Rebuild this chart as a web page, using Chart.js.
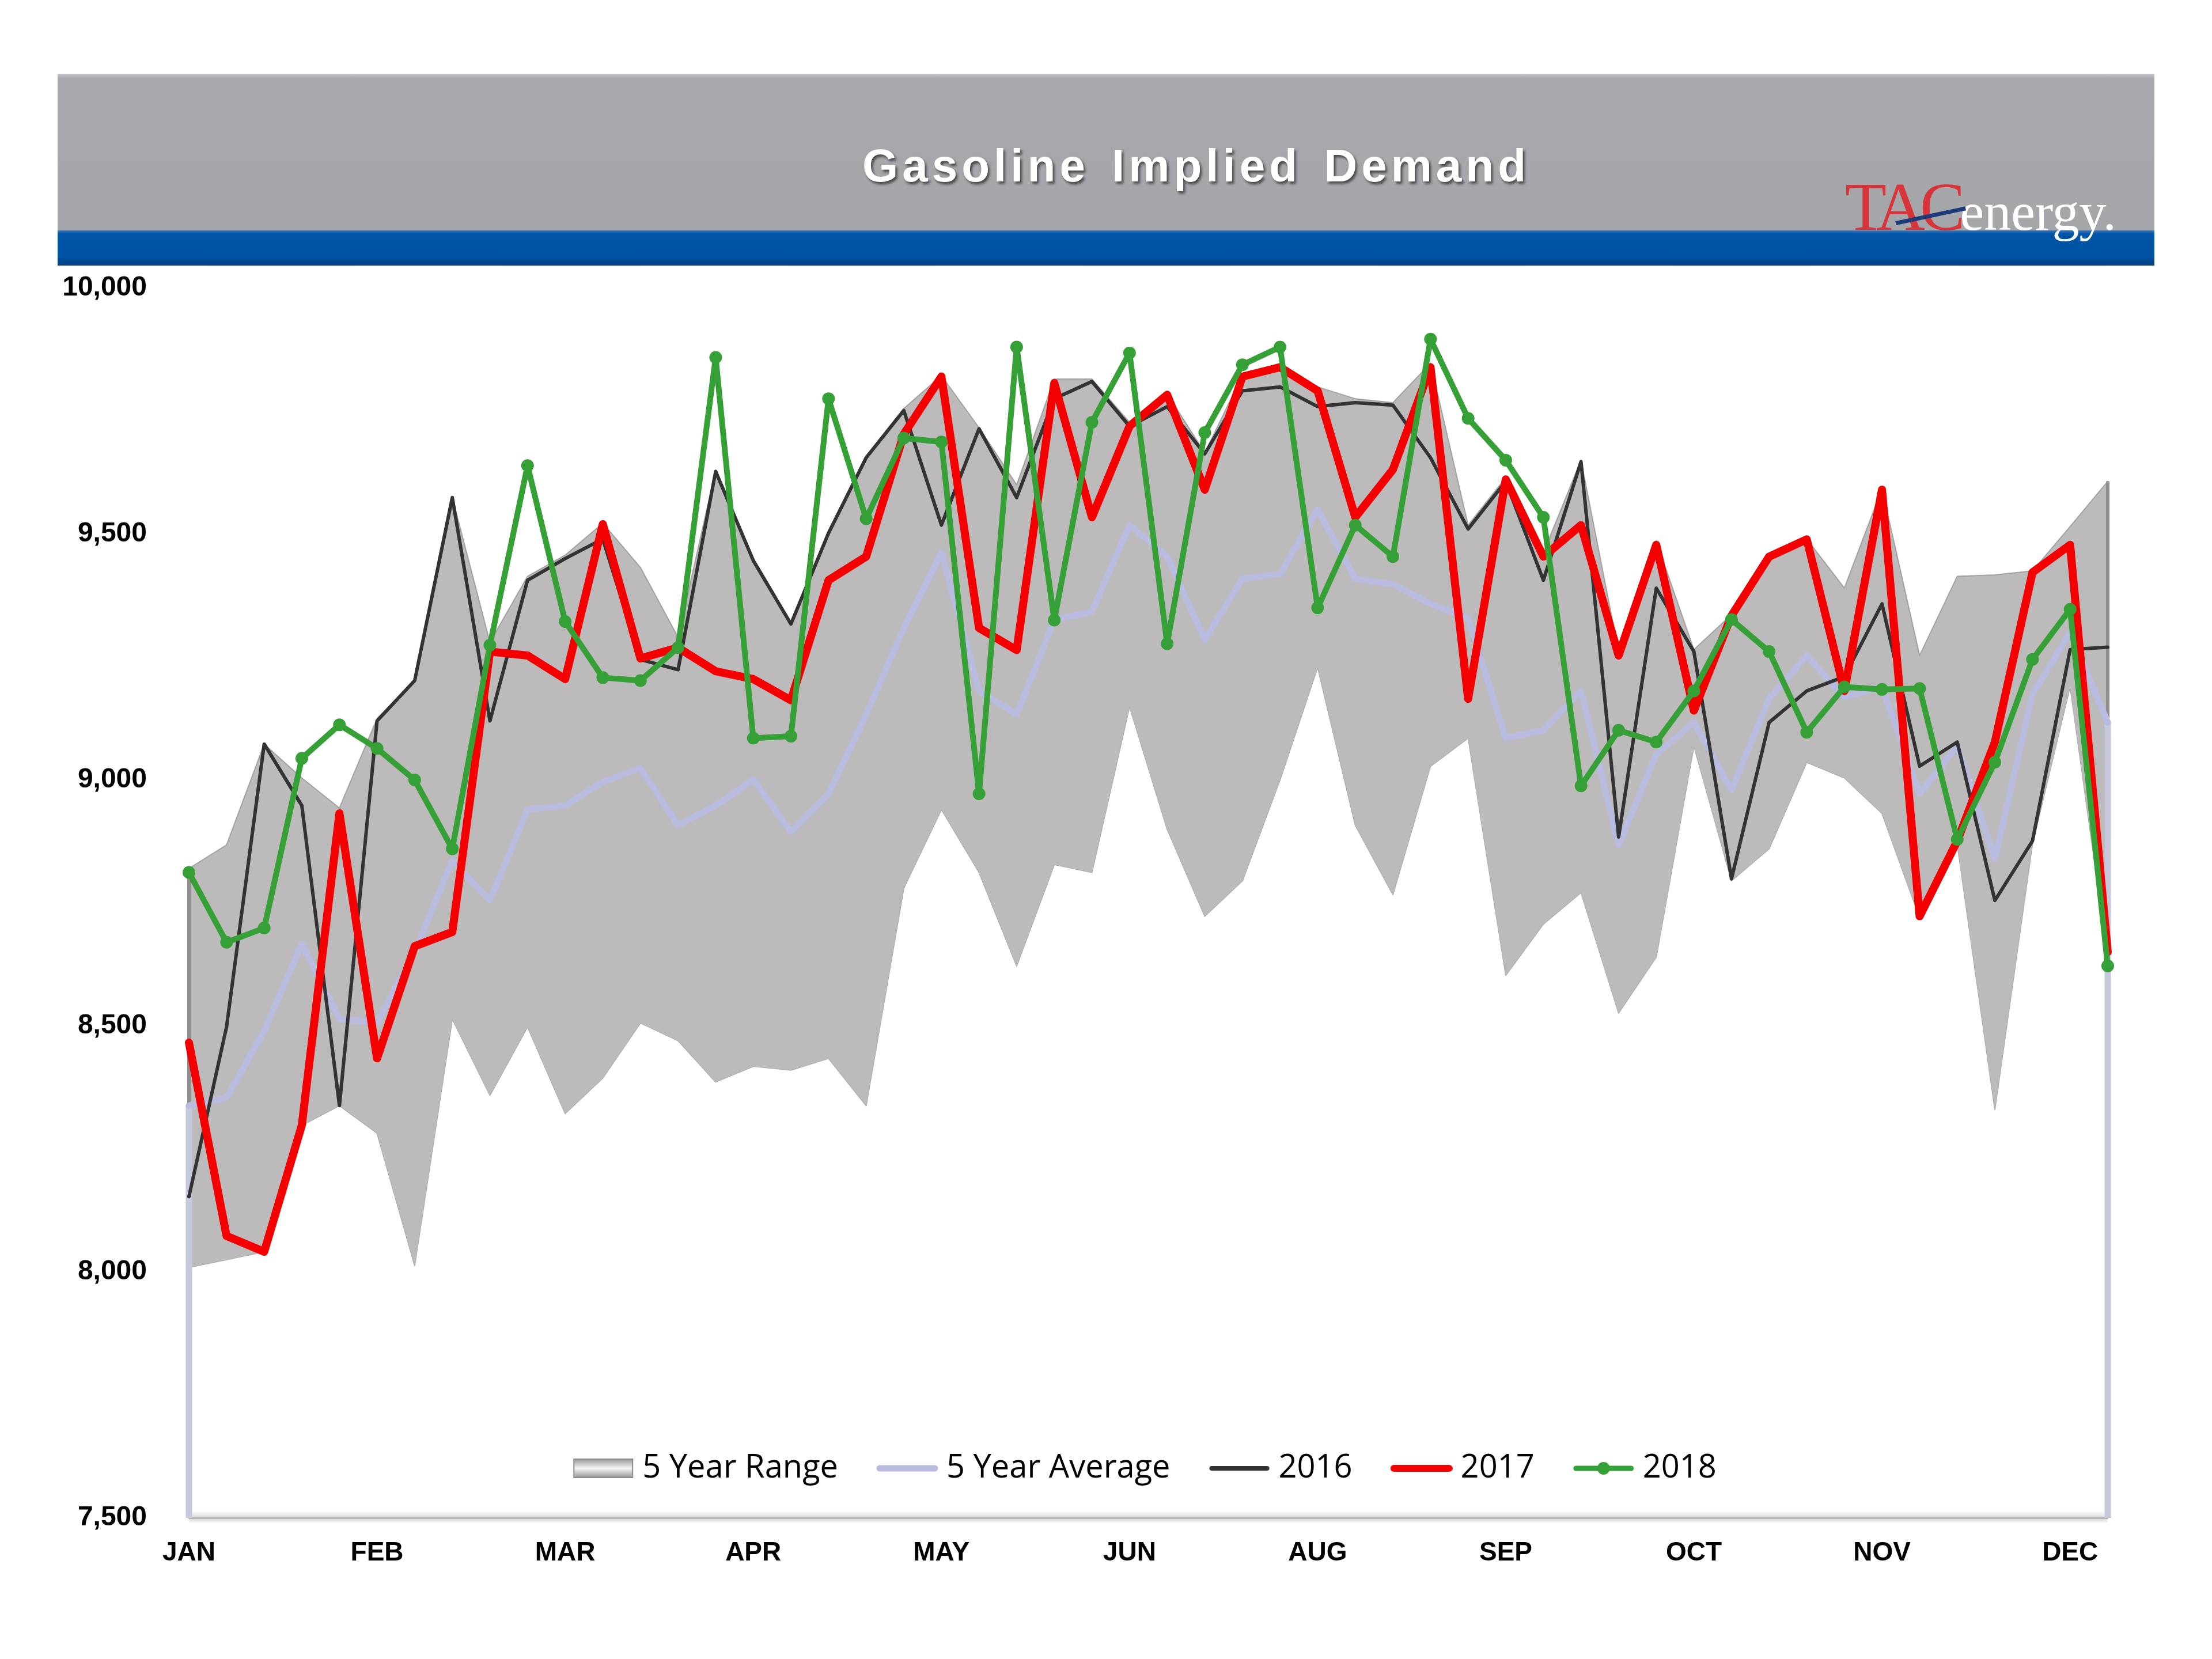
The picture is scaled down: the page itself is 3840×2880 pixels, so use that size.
<!DOCTYPE html>
<html>
<head>
<meta charset="utf-8">
<title>Gasoline Implied Demand</title>
<script src="https://cdn.jsdelivr.net/npm/chart.js@4.4.1/dist/chart.umd.min.js"></script>
<style>
    html, body { margin: 0; padding: 0; background: #ffffff; }
    #page { position: relative; width: 3840px; height: 2880px; overflow: hidden; background: #ffffff; }
    #demandChart { position: absolute; left: 0; top: 0; }
    .bandGray { position: absolute; left: 100px; top: 128px; width: 3640px; height: 272px;
        background: linear-gradient(#c6c7ca 0px, #a8a9ad 8px, #a5a6aa 100%); }
    .bandBlue { position: absolute; left: 100px; top: 400px; width: 3640px; height: 61px;
        background: linear-gradient(#3d78bb 0px, #0055a6 6px, #0053a3 46px, #003d7e 100%); }
    #title { position: absolute; left: 1497px; top: 248px; margin: 0;
        font: bold 80px "Liberation Sans", Arial, sans-serif; line-height: 1;
        letter-spacing: 7px; word-spacing: 10px; color: #ffffff; white-space: nowrap;
        text-shadow: 3px 4px 4px rgba(40, 40, 40, 0.75); }
    #logo { position: absolute; left: 3203px; top: 301px; line-height: 1; white-space: nowrap;
        font-family: "Liberation Serif", "DejaVu Serif", serif; }
    #logo .tac { font-size: 118px; color: #d8353a; letter-spacing: -9px; }
    #logo .energy { font-size: 94px; color: #ffffff; }
    #logo .slash { position: absolute; left: 88px; top: 83px; width: 124px; height: 7px;
        background: #1d3b7a; transform: rotate(-12deg); transform-origin: 0 50%; }
</style>
</head>
<body>
<div id="page">
    <canvas id="demandChart" width="3840" height="2880"></canvas>
    <div class="bandGray"></div>
    <div class="bandBlue"></div>
    <h1 id="title">Gasoline Implied Demand</h1>
    <div id="logo"><span class="tac">TAC</span><span class="energy">energy.</span><div class="slash"></div></div>
</div>
<script>
// weekly values
const weekLabels = ['JAN','','','','','FEB','','','','','MAR','','','','','APR','','','','',
    'MAY','','','','','JUN','','','','','AUG','','','','','SEP','','','','',
    'OCT','','','','','NOV','','','','','DEC',''];

const range5yMax = [8820, 8868, 9073, 9004, 8943, 9125, 9202, 9574, 9280, 9414,
    9457, 9522, 9432, 9290, 9630, 9450, 9320, 9505, 9658, 9755,
    9822, 9716, 9600, 9815, 9815, 9727, 9785, 9665, 9823, 9847,
    9799, 9775, 9767, 9847, 9518, 9615, 9462, 9650, 9261, 9486,
    9265, 9336, 9456, 9490, 9390, 9592, 9253, 9414, 9417, 9425,
    9515, 9607];
const range5yMin = [8009, 8025, 8041, 8298, 8338, 8282, 8013, 8514, 8359, 8498,
    8322, 8394, 8506, 8470, 8386, 8418, 8410, 8434, 8338, 8780,
    8940, 8812, 8622, 8828, 8812, 9149, 8900, 8723, 8795, 9000,
    9229, 8908, 8767, 9028, 9085, 8603, 8707, 8771, 8526, 8640,
    9069, 8795, 8860, 9036, 9004, 8932, 8720, 8870, 8330, 8870,
    9190, 8640];
const avg5y = [8338, 8354, 8490, 8667, 8514, 8506, 8651, 8836, 8755, 8940,
    8948, 8996, 9024, 8908, 8948, 9001, 8895, 8972, 9133, 9309,
    9462, 9181, 9133, 9325, 9342, 9518, 9454, 9285, 9409, 9419,
    9550, 9409, 9398, 9358, 9329, 9085, 9101, 9181, 8868, 9052,
    9117, 8980, 9165, 9253, 9168, 9189, 8972, 9069, 8840, 9174,
    9300, 9117];
const demand2016 = [8153, 8498, 9073, 8948, 8338, 9120, 9202, 9574, 9120, 9406,
    9450, 9490, 9245, 9224, 9627, 9446, 9317, 9502, 9655, 9751,
    9518, 9714, 9574, 9775, 9810, 9719, 9759, 9663, 9791, 9799,
    9759, 9767, 9762, 9655, 9510, 9607, 9406, 9647, 8884, 9390,
    9261, 8799, 9117, 9181, 9210, 9358, 9028, 9077, 8755, 8876,
    9265, 9270];
const demand2017 = [8466, 8073, 8041, 8298, 8932, 8434, 8662, 8691, 9261, 9253,
    9205, 9520, 9247, 9269, 9221, 9205, 9162, 9406, 9454, 9703,
    9820, 9309, 9264, 9807, 9534, 9719, 9783, 9590, 9820, 9839,
    9791, 9534, 9631, 9839, 9165, 9611, 9454, 9518, 9253, 9478,
    9141, 9334, 9454, 9489, 9181, 9590, 8723, 8876, 9077, 9422,
    9478, 8650];
const demand2018 = [8812, 8670, 8699, 9044, 9112, 9064, 9000, 8860, 9274, 9639,
    9322, 9208, 9202, 9269, 9859, 9085, 9089, 9775, 9531, 9695,
    9687, 8972, 9880, 9325, 9727, 9868, 9277, 9706, 9844, 9880,
    9350, 9518, 9454, 9896, 9735, 9650, 9534, 8988, 9101, 9077,
    9181, 9326, 9261, 9097, 9189, 9184, 9186, 8879, 9036, 9245,
    9347, 8622];

const yTicks = [7500, 8000, 8500, 9000, 9500, 10000];
const legendNames = ['5 Year Range', '5 Year Average', '2016', '2017', '2018'];

const rangeFill = '#bcbabb';
const avgColor = '#b9bcdf';
const color2016 = '#333333';
const color2017 = '#f40000';
const color2018 = '#35a035';

const LEGEND_PAD = 80;
const LEGEND_FONT = 56;

function makeIcon(kind, color, lineW) {
    var c = document.createElement('canvas');
    c.width = 108;
    c.height = 40;
    var g = c.getContext('2d');
    if (kind === 'box') {
        var grad = g.createLinearGradient(0, 4, 0, 36);
        grad.addColorStop(0, '#9a9899');
        grad.addColorStop(0.5, '#f6f6f6');
        grad.addColorStop(1, '#9a9899');
        g.fillStyle = grad;
        g.fillRect(3, 4, 102, 32);
        g.strokeStyle = '#8c8a8b';
        g.lineWidth = 2;
        g.strokeRect(3, 4, 102, 32);
    } else {
        g.strokeStyle = color;
        g.lineWidth = lineW;
        g.lineCap = 'round';
        g.beginPath();
        g.moveTo(6, 20);
        g.lineTo(102, 20);
        g.stroke();
        if (kind === 'dot') {
            g.fillStyle = color;
            g.beginPath();
            g.arc(54, 20, 11, 0, Math.PI * 2);
            g.fill();
        }
    }
    return c;
}

const legendIcons = [
    makeIcon('box'),
    makeIcon('line', avgColor, 11),
    makeIcon('line', color2016, 8),
    makeIcon('line', color2017, 12),
    makeIcon('dot', color2018, 9)
];

// the legend sits inside the plot, just above the x axis
const legendInPlot = {
    id: 'legendInPlot',
    afterLayout: function(chart) {
        var lg = chart.legend;
        var area = chart.chartArea;
        var centerY = area.bottom - 86;
        lg.left = area.left;
        lg.right = area.right;
        lg.width = area.right - area.left;
        lg.top = centerY - LEGEND_FONT / 2 - LEGEND_PAD;
        lg.height = LEGEND_PAD + LEGEND_FONT + 40;
        lg.bottom = lg.top + lg.height;
    }
};

// excel draws the area outlines down the first and last week
const AVG_INDEX = 3;
const rangeEdges = {
    id: 'rangeEdges',
    beforeDatasetsDraw: function(chart) {
        var ctx = chart.ctx;
        var area = chart.chartArea;
        ctx.save();
        var grad = ctx.createLinearGradient(0, area.bottom - 12, 0, area.bottom + 10);
        grad.addColorStop(0, 'rgba(0,0,0,0)');
        grad.addColorStop(0.6, 'rgba(0,0,0,0.16)');
        grad.addColorStop(1, 'rgba(0,0,0,0)');
        ctx.fillStyle = grad;
        ctx.fillRect(area.left, area.bottom - 12, area.right - area.left, 22);
        ctx.restore();
    },
    beforeDatasetDraw: function(chart, args) {
        if (args.index !== AVG_INDEX) return;
        var ctx = chart.ctx;
        var x = chart.scales.x;
        var y = chart.scales.y;
        var bottom = chart.chartArea.bottom;
        ctx.save();
        [0, weekLabels.length - 1].forEach(function(i) {
            var px = x.getPixelForValue(i);
            ctx.strokeStyle = '#8f8d8e';
            ctx.lineWidth = 6;
            ctx.beginPath();
            ctx.moveTo(px, y.getPixelForValue(range5yMax[i]));
            ctx.lineTo(px, y.getPixelForValue(range5yMin[i]));
            ctx.stroke();
            ctx.strokeStyle = '#c6c8de';
            ctx.lineWidth = 11;
            ctx.beginPath();
            ctx.moveTo(px, y.getPixelForValue(avg5y[i]));
            ctx.lineTo(px, bottom);
            ctx.stroke();
        });
        ctx.restore();
    }
};

function lineSet(label, data, color, width, order) {
    return {
        label: label,
        data: data,
        borderColor: color,
        backgroundColor: color,
        borderWidth: width,
        borderJoinStyle: 'round',
        borderCapStyle: 'round',
        pointRadius: 0,
        tension: 0,
        fill: false,
        clip: false,
        order: order
    };
}

const set2018 = lineSet('2018', demand2018, color2018, 10, 0);
set2018.pointRadius = 11;
set2018.pointBorderWidth = 0;
set2018.pointBackgroundColor = color2018;

const rangeTop = lineSet('5 Year Max', range5yMax, 'rgba(150,148,149,0.8)', 2, 4);
rangeTop.fill = '+1';
rangeTop.backgroundColor = rangeFill;
const rangeBottom = lineSet('5 Year Min', range5yMin, 'rgba(150,148,149,0.8)', 2, 5);

const ctx = document.getElementById('demandChart').getContext('2d');
const chart = new Chart(ctx, {
    type: 'line',
    data: {
        labels: weekLabels,
        datasets: [
            set2018,
            lineSet('2017', demand2017, color2017, 14, 1),
            lineSet('2016', demand2016, color2016, 6, 2),
            lineSet('5 Year Average', avg5y, avgColor, 11, 3),
            rangeTop,
            rangeBottom
        ]
    },
    options: {
        responsive: false,
        animation: false,
        devicePixelRatio: 1,
        layout: { padding: { left: 0, right: 181, top: 500, bottom: 0 } },
        plugins: {
            tooltip: { enabled: false },
            legend: {
                position: 'bottom',
                maxHeight: 1,
                labels: {
                    usePointStyle: true,
                    pointStyleWidth: 80,
                    padding: LEGEND_PAD,
                    color: '#000000',
                    font: { family: '"Open Sans", "Noto Sans", sans-serif', size: LEGEND_FONT },
                    generateLabels: function() {
                        return legendNames.map(function(name, i) {
                            return {
                                text: name,
                                pointStyle: legendIcons[i],
                                fillStyle: 'rgba(0,0,0,0)',
                                strokeStyle: 'rgba(0,0,0,0)',
                                lineWidth: 0,
                                hidden: false,
                                datasetIndex: i
                            };
                        });
                    }
                }
            }
        },
        scales: {
            x: {
                type: 'category',
                offset: false,
                grid: { display: false, drawTicks: false },
                border: { display: true, color: '#d6d6d6', width: 4 },
                ticks: {
                    autoSkip: false,
                    maxRotation: 0,
                    minRotation: 0,
                    padding: 34,
                    color: '#000000',
                    font: { family: '"Liberation Sans", Arial, sans-serif', size: 46, weight: 'bold' }
                },
                afterFit: function(scale) { scale.height = 244; }
            },
            y: {
                min: yTicks[0],
                max: yTicks[yTicks.length - 1],
                grid: { display: false, drawTicks: false },
                border: { display: false },
                ticks: {
                    stepSize: yTicks[1] - yTicks[0],
                    padding: 73,
                    color: '#000000',
                    font: { family: '"Liberation Sans", Arial, sans-serif', size: 48, weight: 'bold' },
                    callback: function(v) { return v.toLocaleString('en-US'); }
                },
                afterFit: function(scale) { scale.width = 328; }
            }
        }
    },
    plugins: [legendInPlot, rangeEdges]
});
</script>
</body>
</html>
